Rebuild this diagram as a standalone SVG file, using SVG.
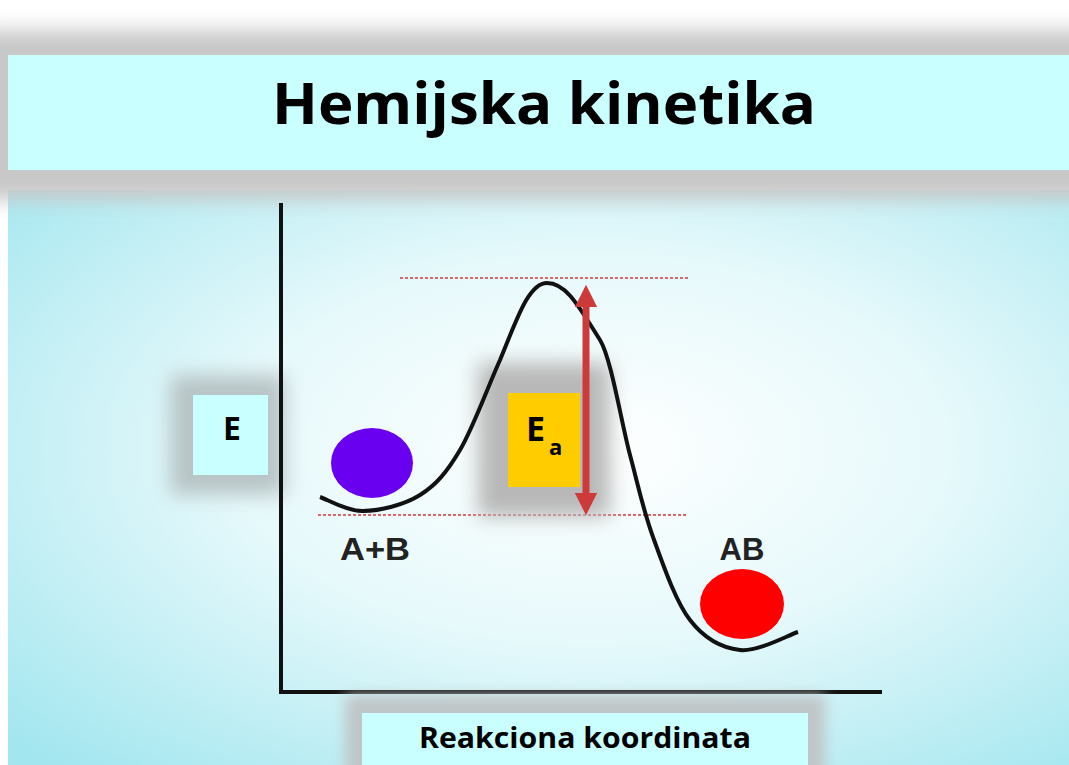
<svg xmlns="http://www.w3.org/2000/svg" width="1069" height="765" viewBox="0 0 1069 765">
<defs>
<filter id="blur" x="-30%" y="-30%" width="160%" height="160%"><feGaussianBlur stdDeviation="10"/></filter>
<filter id="blurS" x="-30%" y="-30%" width="160%" height="160%"><feGaussianBlur stdDeviation="7"/></filter>
<radialGradient id="bg" cx="0.55" cy="0.45" r="0.75">
<stop offset="0" stop-color="#ffffff"/>
<stop offset="0.45" stop-color="#e6f9fb"/>
<stop offset="1" stop-color="#a2e6ef"/>
</radialGradient>
<marker id="ah" viewBox="0 0 10 10" refX="5" refY="5" markerWidth="3.2" markerHeight="3.2" orient="auto-start-reverse"><path d="M0,0 L10,5 L0,10 z" fill="#cc3a3a"/></marker>
</defs>
<style>
.lbl{font-family:"Liberation Sans",Arial,sans-serif;font-weight:bold;fill:#222}
.cal{font-family:"Open Sans","Liberation Sans",sans-serif;font-weight:bold;fill:#000}
.dot{stroke:#d46a6a;stroke-width:2;stroke-dasharray:3,2;fill:none}
</style>
<rect width="1069" height="765" fill="#ffffff"/>
<rect x="8" y="190" width="1061" height="575" fill="url(#bg)"/>
<rect x="-20" y="30" width="1120" height="170" fill="#c8c8c8" filter="url(#blur)"/>
<g id="title">
<rect x="8" y="55" width="1061" height="115" fill="#c9ffff"/>
<text class="cal" x="544" y="124" font-size="58" text-anchor="middle" textLength="544" lengthAdjust="spacingAndGlyphs">Hemijska kinetika</text>
</g>
<g id="e-label">
<rect x="170" y="375" width="115" height="120" fill="#b8c4c6" filter="url(#blur)"/>
<rect x="193" y="395" width="75" height="80" fill="#c9ffff"/>
<text class="cal" x="232" y="440" font-size="32" text-anchor="middle">E</text>
</g>
<g id="axes" stroke="#111" stroke-width="4" fill="none">
<line x1="281" y1="203" x2="281" y2="694"/>
<line x1="279" y1="692" x2="882" y2="692"/>
</g>
<g id="levels">
<line class="dot" x1="400" y1="278" x2="688" y2="278"/>
<line class="dot" x1="318" y1="515" x2="688" y2="515"/>
</g>
<g id="ea-box">
<rect x="478" y="363" width="132" height="154" fill="#b8b8b8" filter="url(#blur)"/>
<rect x="508" y="393" width="72" height="94" fill="#ffcc00"/>
<text class="cal" x="526" y="441" font-size="34">E</text>
<text class="cal" x="549" y="455" font-size="22">a</text>
</g>
<g id="curve">
<path d="M320,497 C327.2,499.3 346.3,511.3 363,511 C379.7,510.7 403.8,505.2 420,495 C436.2,484.8 446.7,472.5 460,450 C473.3,427.5 488.3,385.8 500,360 C516,322 528,283 547,283 C566,283 578,305 600,340 C611,357.5 621.2,422.2 630,455 C638.8,487.8 643,509.5 653,537 C663,564.5 675.5,601.2 690,620 C704.5,638.8 722,648 740,650 C758,652 788.3,635 798,632" fill="none" stroke="#111" stroke-width="4"/>
</g>
<g id="connectors">
<line x1="586" y1="296" x2="586" y2="504" stroke="#cc3a3a" stroke-width="7" marker-start="url(#ah)" marker-end="url(#ah)"/>
</g>
<g id="reactants">
<ellipse cx="372" cy="463" rx="41" ry="35" fill="#6a00f0"/>
<text class="lbl" x="375" y="560" font-size="32" text-anchor="middle" textLength="70" lengthAdjust="spacingAndGlyphs">A+B</text>
</g>
<g id="product">
<ellipse cx="742" cy="604" rx="42" ry="35" fill="#ff0000"/>
<text class="lbl" x="742" y="560" font-size="31" text-anchor="middle">AB</text>
</g>
<g id="x-label">
<rect x="345" y="695" width="480" height="85" fill="#c0c6c8" filter="url(#blurS)"/>
<rect x="362" y="713" width="446" height="60" fill="#c9ffff"/>
<text class="cal" x="585" y="748" font-size="28" text-anchor="middle" textLength="332" lengthAdjust="spacingAndGlyphs">Reakciona koordinata</text>
</g>
</svg>
